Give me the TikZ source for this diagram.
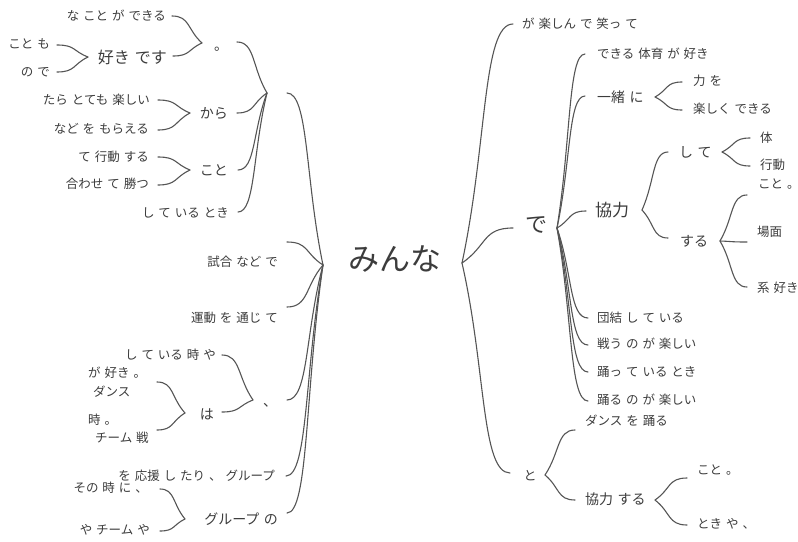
\documentclass[tikz,border=0pt]{standalone}
\usepackage{fontspec}
\newfontfamily\jp[WordSpace=1.4]{Noto Sans CJK JP}
\usetikzlibrary{calc}
\definecolor{linec}{HTML}{555555}
\definecolor{txtc}{HTML}{3C3C3C}
\tikzset{
 br/.style={draw=linec, line width=1.1pt, line cap=round},
 wt/.style={inner sep=0pt, text=txtc},
 lf/.style={wt, font=\jp\fontsize{12.5}{14}\selectfont},
 md/.style={wt, font=\jp\fontsize{14}{16}\selectfont},
 toL/.style={anchor=east},
 toR/.style={anchor=west}
}
\newcommand\wtlink[2]{\draw[br] (#1) .. controls ($(#1)!0.6!(#1-|#2)$) and ($(#1)!0.5!(#2)$) .. (#2);}
\begin{document}
\begin{tikzpicture}[x=1pt,y=-1pt]
\useasboundingbox (0,0) rectangle (798,541);
% root
\node[wt, font=\jp\fontsize{31}{34}\selectfont] (root) at (395,259) {みんな};
\coordinate (rootL) at (323,265);
\coordinate (rootR) at (462,263);
% ---------- left side ----------
\coordinate (blankR) at (287,93);
\coordinate (blankL) at (267,93);
\node[md, anchor=base west] (maru) at (214,50) {。};
\coordinate (maruR) at (237,42); \coordinate (maruL) at (202,43);
\node[lf,toL] (nakoto) at (166,16) {な こと が できる}; \coordinate (nakotoR) at (172,16);
\node[wt,font=\jp\fontsize{16}{18}\selectfont,toL] (suki) at (167,57) {好き です};
\coordinate (sukiR) at (173,56); \coordinate (sukiL) at (88,57);
\node[lf,toL] (kotomo) at (50,44) {こと も}; \coordinate (kotomoR) at (57,45);
\node[lf,toL] (node1) at (50,72) {の で}; \coordinate (node1R) at (57,72);
\node[md,toL] (kara) at (228,113) {から};
\coordinate (karaR) at (237,113); \coordinate (karaL) at (190,113);
\node[lf,toL] (tara) at (150,100) {たら とても 楽しい}; \coordinate (taraR) at (158,100);
\node[lf,toL] (nado) at (149,129) {など を もらえる}; \coordinate (nadoR) at (158,130);
\node[md,toL] (koto) at (228,170) {こと};
\coordinate (kotoR) at (238,170); \coordinate (kotoL) at (190,170);
\node[lf,toL] (te) at (149,157) {て 行動 する}; \coordinate (teR) at (158,157);
\node[lf,toL] (awase) at (149,184) {合わせ て 勝つ}; \coordinate (awaseR) at (158,185);
\node[lf,toL] (shite) at (229,213) {し て いる とき}; \coordinate (shiteR) at (238,212);
\node[lf,toL] (siai) at (278,262) {試合 など で}; \coordinate (siaiR) at (287,242);
\node[lf,toL] (undo) at (278,318) {運動 を 通じ て}; \coordinate (undoR) at (287,307);
\node[md, anchor=base west] (ten) at (263,406) {、};
\coordinate (tenR) at (287,400); \coordinate (tenL) at (253,400);
\node[lf,toL] (shiteya) at (216,355) {し て いる 時 や}; \coordinate (shiteyaR) at (222,355);
\node[md,toL] (ha) at (214,414) {は};
\coordinate (haR) at (222,412); \coordinate (haL) at (185,413);
\node[lf,toR] (gasuki) at (88,373) {が 好き 。};
\node[lf,toR] (dansu) at (93,392) {ダンス};
\coordinate (gasukiR) at (157,382);
\node[lf,toR] (ji) at (88,420) {時 。};
\node[lf,toR] (team) at (95,438) {チーム 戦};
\coordinate (jiR) at (157,430);
\node[lf,toL] (ouen) at (275,476) {を 応援 し たり 、 グループ}; \coordinate (ouenR) at (286,476);
\node[md,toL] (grp) at (278,519) {グループ の};
\coordinate (grpR) at (287,513); \coordinate (grpL) at (185,519);
\node[lf,toL] (sono) at (148,488) {その 時 に 、}; \coordinate (sonoR) at (160,489);
\node[lf,toL] (ya) at (150,530) {や チーム や}; \coordinate (yaR) at (160,531);
% ---------- right side ----------
\node[lf,toR] (gatano) at (522,24) {が 楽しん で 笑っ て}; \coordinate (gatanoL) at (513,24);
\node[wt,font=\jp\fontsize{22}{24}\selectfont] (de) at (536,225) {で};
\coordinate (deL) at (513,228); \coordinate (deR) at (557,228);
\node[lf,toR] (dekiru) at (597,54) {できる 体育 が 好き}; \coordinate (dekiruL) at (585,54);
\node[md,toR] (issho) at (597,97) {一緒 に};
\coordinate (isshoL) at (585,96); \coordinate (isshoR) at (655,97);
\node[lf,toR] (chikara) at (693,81) {力 を}; \coordinate (chikaraL) at (682,82);
\node[lf,toR] (tanoshiku) at (693,109) {楽しく できる}; \coordinate (tanoshikuL) at (682,110);
\node[wt,font=\jp\fontsize{17}{19}\selectfont,toR] (kyo) at (595,210) {協力};
\coordinate (kyoL) at (586,211); \coordinate (kyoR) at (642,210);
\node[md,toR] (shite2) at (679,152) {し て};
\coordinate (shite2L) at (668,152); \coordinate (shite2R) at (722,152);
\node[lf,toR] (tai) at (760,138) {体}; \coordinate (taiL) at (750,138);
\node[lf,toR] (kodo) at (760,165) {行動}; \coordinate (kodoL) at (750,166);
\node[md,toR] (suru) at (680,241) {する};
\coordinate (suruL) at (668,238); \coordinate (suruR) at (720,241);
\node[lf,toR] (koto2) at (758,184) {こと 。}; \coordinate (koto2L) at (747,195);
\node[lf,toR] (bamen) at (757,232) {場面}; \coordinate (bamenL) at (747,242);
\node[lf,toR] (kei) at (757,288) {系 好き}; \coordinate (keiL) at (747,287);
\node[lf,toR] (dan) at (597,318) {団結 し て いる}; \coordinate (danL) at (588,318);
\node[lf,toR] (tata) at (597,344) {戦う の が 楽しい}; \coordinate (tataL) at (588,345);
\node[lf,toR] (odotte) at (597,372) {踊っ て いる とき}; \coordinate (odotteL) at (588,372);
\node[lf,toR] (odoru) at (597,400) {踊る の が 楽しい}; \coordinate (odoruL) at (588,401);
\node[wt,font=\jp\fontsize{13}{15}\selectfont] (to) at (530,476) {と};
\coordinate (toL) at (510,473); \coordinate (toR) at (545,475);
\node[lf,toR] (dance) at (585,421) {ダンス を 踊る}; \coordinate (danceL) at (575,430);
\node[md,toR] (kyosuru) at (585,499) {協力 する};
\coordinate (kyosuruL) at (575,500); \coordinate (kyosuruR) at (655,500);
\node[lf,toR] (koto3) at (697,470) {こと 。}; \coordinate (koto3L) at (687,478);
\node[lf,toR] (tokiya) at (697,524) {とき や 、}; \coordinate (tokiyaL) at (687,525);
% ---------- connectors ----------
\wtlink{blankR}{rootL}
\wtlink{siaiR}{rootL}
\wtlink{undoR}{rootL}
\wtlink{tenR}{rootL}
\wtlink{ouenR}{rootL}
\wtlink{grpR}{rootL}
\wtlink{maruR}{blankL}
\wtlink{karaR}{blankL}
\wtlink{kotoR}{blankL}
\wtlink{shiteR}{blankL}
\wtlink{nakotoR}{maruL}
\wtlink{sukiR}{maruL}
\wtlink{kotomoR}{sukiL}
\wtlink{node1R}{sukiL}
\wtlink{taraR}{karaL}
\wtlink{nadoR}{karaL}
\wtlink{teR}{kotoL}
\wtlink{awaseR}{kotoL}
\wtlink{shiteyaR}{tenL}
\wtlink{haR}{tenL}
\wtlink{gasukiR}{haL}
\wtlink{jiR}{haL}
\wtlink{sonoR}{grpL}
\wtlink{yaR}{grpL}
\wtlink{gatanoL}{rootR}
\wtlink{deL}{rootR}
\wtlink{toL}{rootR}
\wtlink{dekiruL}{deR}
\wtlink{isshoL}{deR}
\wtlink{kyoL}{deR}
\wtlink{danL}{deR}
\wtlink{tataL}{deR}
\wtlink{odotteL}{deR}
\wtlink{odoruL}{deR}
\wtlink{chikaraL}{isshoR}
\wtlink{tanoshikuL}{isshoR}
\wtlink{shite2L}{kyoR}
\wtlink{suruL}{kyoR}
\wtlink{taiL}{shite2R}
\wtlink{kodoL}{shite2R}
\wtlink{koto2L}{suruR}
\wtlink{bamenL}{suruR}
\wtlink{keiL}{suruR}
\wtlink{danceL}{toR}
\wtlink{kyosuruL}{toR}
\wtlink{koto3L}{kyosuruR}
\wtlink{tokiyaL}{kyosuruR}
\end{tikzpicture}
\end{document}
